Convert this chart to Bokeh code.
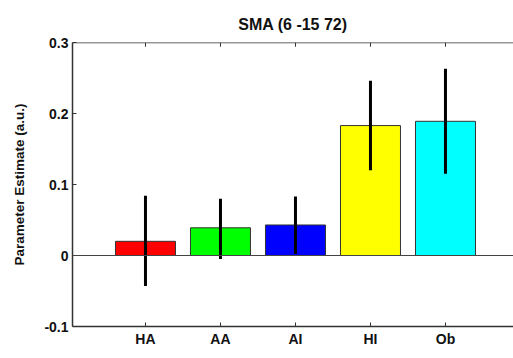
from bokeh.plotting import figure
from bokeh.models import Range1d, LinearAxis, FixedTicker, Span, ColumnDataSource
from bokeh.embed import file_html
from bokeh.resources import INLINE

categories = ["HA", "AA", "AI", "HI", "Ob"]
positions = [1, 2, 3, 4, 5]
values = [0.020, 0.039, 0.043, 0.183, 0.189]
err_low = [-0.043, -0.005, 0.002, 0.120, 0.115]
err_high = [0.084, 0.080, 0.083, 0.246, 0.263]
colors = ["#ff0000", "#00ff00", "#0000ff", "#ffff00", "#00ffff"]
y_ticks = [-0.1, 0, 0.1, 0.2, 0.3]
y_tick_labels = {-0.1: "-0.1", 0: "0", 0.1: "0.1", 0.2: "0.2", 0.3: "0.3"}
y_min, y_max = -0.1, 0.3

src = ColumnDataSource(dict(x=positions, top=values, lo=err_low, hi=err_high, color=colors))

FONT = "Liberation Sans"
AX = "#333333"

p = figure(width=513, height=358, output_backend="svg", toolbar_location=None,
           x_range=Range1d(0.027, 5.907), y_range=Range1d(y_min, y_max),
           x_axis_location=None, y_axis_location=None,
           min_border_left=72, min_border_right=0, min_border_top=42, min_border_bottom=32)
p.outline_line_color = None
p.xgrid.visible = False
p.ygrid.visible = False
p.background_fill_color = "white"
p.border_fill_color = "white"

p.title.text = "SMA (6 -15 72)"
p.title.align = "center"
p.title.text_font = FONT
p.title.text_font_size = "16px"
p.title.text_font_style = "bold"
p.title.text_color = "#111111"
p.title.offset = 0
p.title.standoff = 19

xb = LinearAxis(ticker=FixedTicker(ticks=positions),
                major_label_overrides={x: c for x, c in zip(positions, categories)})
yl = LinearAxis(ticker=FixedTicker(ticks=y_ticks),
                major_label_overrides={k: v for k, v in y_tick_labels.items()},
                axis_label="Parameter Estimate (a.u.)")
for ax in (xb, yl):
    ax.axis_line_color = AX
    ax.axis_line_width = 1.5
    ax.major_tick_line_color = AX
    ax.major_tick_in = 4
    ax.major_tick_out = 0
    ax.minor_tick_line_color = None
    ax.major_label_text_font = FONT
    ax.major_label_text_font_style = "bold"
    ax.major_label_text_color = "#111111"
xb.major_label_text_font_size = "14px"
xb.major_label_standoff = 4
yl.major_label_text_font_size = "14px"
yl.major_label_standoff = 4
yl.axis_label_text_font = FONT
yl.axis_label_text_font_size = "13.5px"
yl.axis_label_text_font_style = "bold"
yl.axis_label_text_color = "#111111"
yl.axis_label_standoff = 14
p.add_layout(xb, "below")
p.add_layout(yl, "left")

# top frame line with inward ticks
p.add_layout(Span(location=y_max, dimension="width", line_color=AX, line_width=1.5))
p.segment(x0=positions, x1=positions, y0=[y_max] * 5, y1=[y_max - 0.006] * 5,
          line_color=AX, line_width=1)

p.vbar(x="x", top="top", bottom=0, width=0.8, fill_color="color",
       line_color="#333333", line_width=1, source=src)
p.add_layout(Span(location=0, dimension="width", line_color="#444444", line_width=1))
p.segment(x0="x", y0="lo", x1="x", y1="hi", line_color="black", line_width=3, source=src)

open("out.html", "w").write(file_html(p, INLINE))
